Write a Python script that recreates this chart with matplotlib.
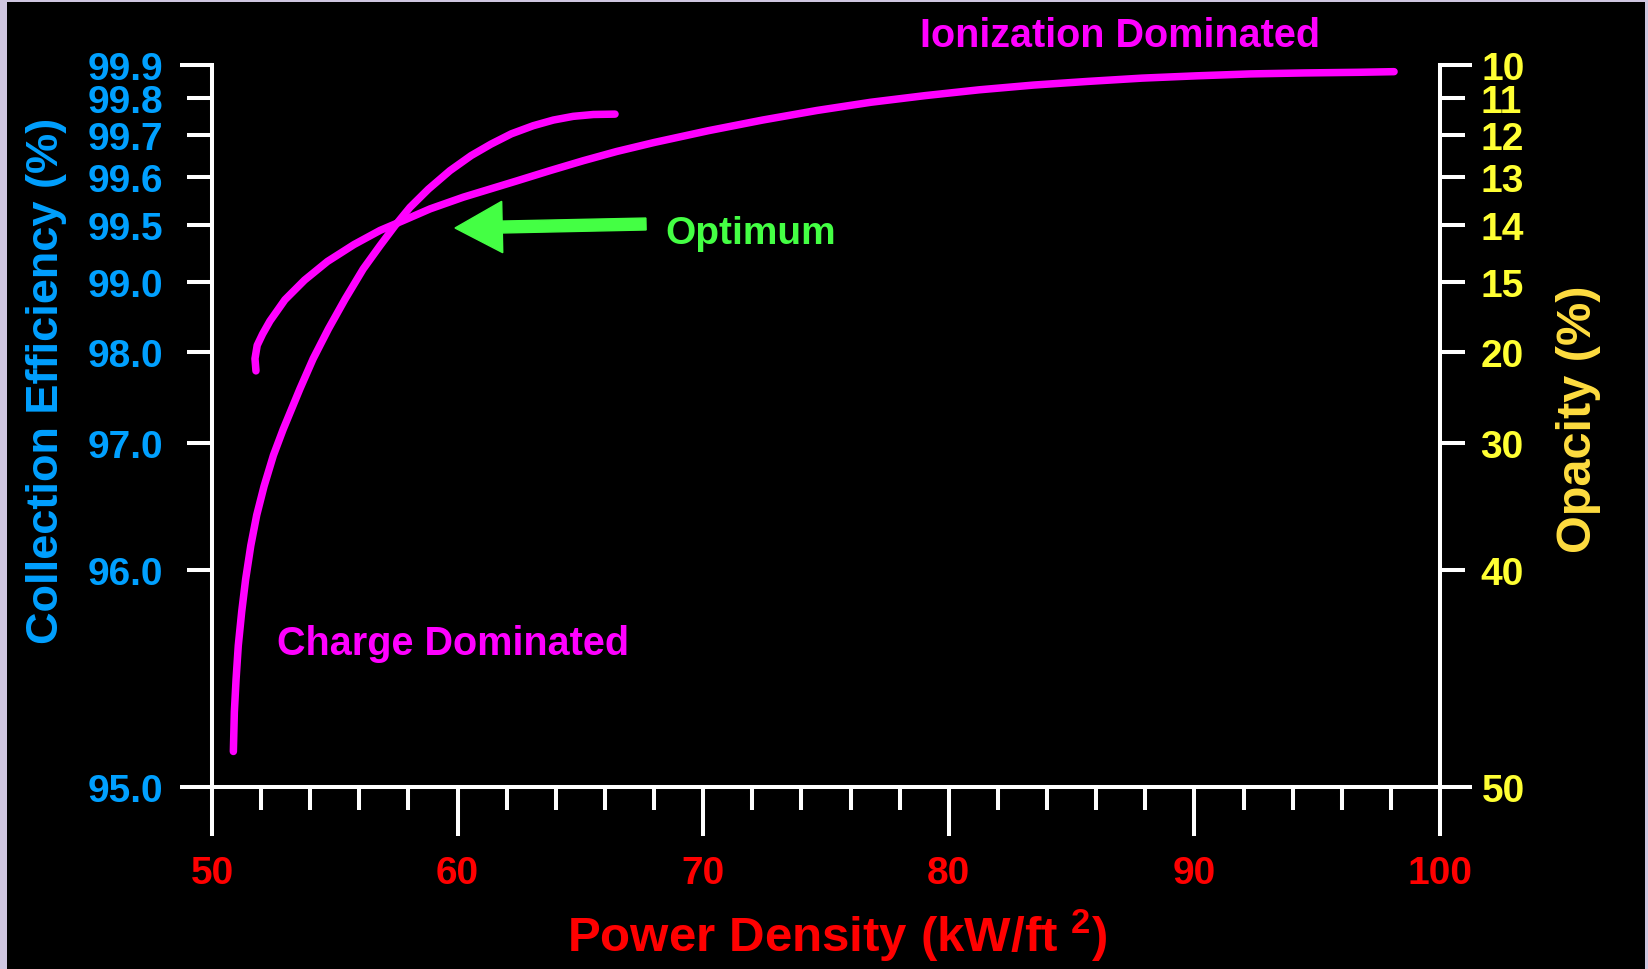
import numpy as np
import matplotlib
matplotlib.use('Agg')
import matplotlib.pyplot as plt
from matplotlib.patches import Rectangle

# ---------------- data ----------------
power_charge = [50.87, 50.91, 50.98, 51.07, 51.21, 51.37, 51.58, 51.82, 52.12, 52.50,
                52.90, 53.58, 54.12, 54.74, 55.42, 56.16, 56.84, 57.45, 58.06, 58.81,
                59.69, 60.55, 61.36, 62.19, 63.08, 63.90, 64.71, 65.53, 66.41]
eff_charge = [95.12, 95.27, 95.41, 95.57, 95.75, 95.94, 96.16, 96.38, 96.61, 96.88,
              97.13, 97.56, 97.92, 98.31, 98.74, 99.11, 99.31, 99.495, 99.535, 99.573,
              99.614, 99.649, 99.677, 99.703, 99.724, 99.739, 99.749, 99.754, 99.755]

power_ion = [51.79, 51.75, 51.84, 52.06, 52.36, 52.97, 53.77, 54.70, 55.78, 56.84,
             57.79, 58.88, 60.23, 62.41, 63.76, 65.12, 66.48, 68.00, 70.21, 72.42,
             74.63, 76.83, 79.04, 81.25, 83.45, 85.66, 87.87, 90.07, 92.28, 94.49,
             96.69, 98.13]
eff_ion = [97.77, 97.92, 98.09, 98.24, 98.42, 98.73, 99.018, 99.172, 99.32, 99.45,
           99.509, 99.532, 99.556, 99.591, 99.614, 99.637, 99.659, 99.681, 99.711, 99.739,
           99.765, 99.788, 99.807, 99.824, 99.838, 99.849, 99.859, 99.866, 99.872, 99.875,
           99.877, 99.879]

x_major = [50, 60, 70, 80, 90, 100]
x_minor = list(range(50, 101, 2))
eff_ticks = [95.0, 96.0, 97.0, 98.0, 99.0, 99.5, 99.6, 99.7, 99.8, 99.9]
eff_labels = ['95.0', '96.0', '97.0', '98.0', '99.0', '99.5', '99.6', '99.7', '99.8', '99.9']
opacity_labels = ['50', '40', '30', '20', '15', '14', '13', '12', '11', '10']
# the efficiency axis is drawn on one cycle of log paper (1..10)
paper_cycle = [1, 2, 3, 4, 5, 6, 7, 8, 9, 10]


def fwd(v):
    return np.log10(np.interp(v, eff_ticks, paper_cycle))


def inv(u):
    return np.interp(10 ** np.asarray(u, dtype=float), paper_cycle, eff_ticks)


# ---------------- style ----------------
plt.rcParams['font.family'] = ['Liberation Sans', 'DejaVu Sans']
plt.rcParams['font.weight'] = 'bold'
plt.rcParams['mathtext.fontset'] = 'custom'
plt.rcParams['mathtext.rm'] = 'Liberation Sans:bold'
plt.rcParams['mathtext.bf'] = 'Liberation Sans:bold'

BLUE = '#00a0ff'
RED = '#ff0000'
YELLOW = '#ffff33'
GOLD = '#ffdd40'
MAGENTA = '#ff00ff'
GREEN = '#44ff44'
WHITE = '#ffffff'
LAVENDER = '#cfc6e0'

W, H = 1648, 970
fig = plt.figure(figsize=(W / 100, H / 100), dpi=100)
fig.patch.set_facecolor(LAVENDER)
fig.add_artist(Rectangle((7 / W, 0), (1645 - 7) / W, (H - 3) / H,
                         transform=fig.transFigure, facecolor='black',
                         edgecolor='none', zorder=-10))

x0, x1 = 212, 1440
ytop, ybot = 66, 788
ax = fig.add_axes([x0 / W, (H - ybot) / H, (x1 - x0) / W, (ybot - ytop) / H])
ax.set_facecolor('black')
ax.set_xlim(50, 100)
ax.set_yscale('function', functions=(fwd, inv))
ax.set_ylim(95.0, 99.9)

ax2 = ax.twinx()
ax2.set_yscale('function', functions=(fwd, inv))
ax2.set_ylim(95.0, 99.9)

SPW = 2.9
for a in (ax, ax2):
    for s in a.spines.values():
        s.set_visible(False)
ax.spines['left'].set_visible(True)
ax.spines['bottom'].set_visible(True)
ax2.spines['right'].set_visible(True)
for s in (ax.spines['left'], ax.spines['bottom'], ax2.spines['right']):
    s.set_color(WHITE)
    s.set_linewidth(SPW)

# x ticks
ax.set_xticks(x_major)
ax.set_xticks(x_minor, minor=True)
ax.set_xticklabels([str(v) for v in x_major])
ax.tick_params(axis='x', which='major', direction='out', length=35, width=SPW,
               color=WHITE, labelcolor=RED, labelsize=28, pad=14)
ax.tick_params(axis='x', which='minor', direction='out', length=16.5, width=SPW,
               color=WHITE)

# left y ticks
ends = [0, len(eff_ticks) - 1]
mids = list(range(1, len(eff_ticks) - 1))
ax.set_yticks([eff_ticks[i] for i in ends], labels=[eff_labels[i] for i in ends])
ax.set_yticks([eff_ticks[i] for i in mids], labels=[eff_labels[i] for i in mids], minor=True)
ax.tick_params(axis='y', which='major', direction='out', length=23, width=SPW,
               color=WHITE, labelcolor=BLUE, labelsize=28, pad=12)
ax.tick_params(axis='y', which='minor', direction='out', length=18, width=SPW,
               color=WHITE, labelcolor=BLUE, labelsize=28, pad=17)

# right y ticks (opacity)
ax2.set_yticks([eff_ticks[i] for i in ends], labels=[opacity_labels[i] for i in ends])
ax2.set_yticks([eff_ticks[i] for i in mids], labels=[opacity_labels[i] for i in mids], minor=True)
ax2.tick_params(axis='y', which='major', direction='out', length=23, width=SPW,
                color=WHITE, labelcolor=YELLOW, labelsize=28, pad=7)
ax2.tick_params(axis='y', which='minor', direction='out', length=18, width=SPW,
                color=WHITE, labelcolor=YELLOW, labelsize=28, pad=11)

# curves
ax.plot(power_charge, eff_charge, color=MAGENTA, lw=5.4, solid_capstyle='round',
        solid_joinstyle='round', zorder=3)
ax.plot(power_ion, eff_ion, color=MAGENTA, lw=5.4, solid_capstyle='round',
        solid_joinstyle='round', zorder=3)

# axis labels
ax.set_xlabel('Power Density (kW/ft $^{\\mathrm{2}}$)', color=RED, fontsize=35.5,
              fontweight='bold')
ax.xaxis.set_label_coords((837 - x0) / (x1 - x0), -(953 - ybot) / (ybot - ytop))
ax.xaxis.label.set_va('baseline')

ax.set_ylabel('Collection Efficiency (%)', color=BLUE, fontsize=32.5, fontweight='bold')
ax.yaxis.set_label_coords((58 - x0) / (x1 - x0), (ybot - 381) / (ybot - ytop))
ax.yaxis.label.set_va('baseline')
ax.yaxis.label.set_rotation_mode('anchor')

ax2.set_ylabel('Opacity (%)', color=GOLD, fontsize=35, fontweight='bold', rotation=90)
ax2.yaxis.set_label_coords((1591 - x0) / (x1 - x0), (ybot - 419) / (ybot - ytop))
ax2.yaxis.label.set_va('baseline')
ax2.yaxis.label.set_ha('center')
ax2.yaxis.label.set_rotation_mode('anchor')

# annotations
def axpt(px, py):
    return ((px - x0) / (x1 - x0), (ybot - py) / (ybot - ytop))

ax.text(*axpt(920, 47), 'Ionization Dominated', transform=ax.transAxes,
        color=MAGENTA, fontsize=28.5, fontweight='bold', ha='left', va='baseline')
ax.text(*axpt(277, 655), 'Charge Dominated', transform=ax.transAxes,
        color=MAGENTA, fontsize=28.5, fontweight='bold', ha='left', va='baseline')
ax.text(*axpt(665, 244), 'Optimum', transform=ax.transAxes,
        color=GREEN, fontsize=28, fontweight='bold', ha='left', va='baseline')

ax.annotate('', xy=axpt(455, 229), xytext=axpt(646, 225),
            xycoords='axes fraction', textcoords='axes fraction',
            arrowprops=dict(arrowstyle='simple,head_length=3.4,head_width=3.7,tail_width=0.86',
                            color=GREEN, mutation_scale=10, shrinkA=0, shrinkB=0,
                            capstyle='round', joinstyle='miter'))

fig.savefig('out.png', dpi=100, facecolor=fig.get_facecolor())
